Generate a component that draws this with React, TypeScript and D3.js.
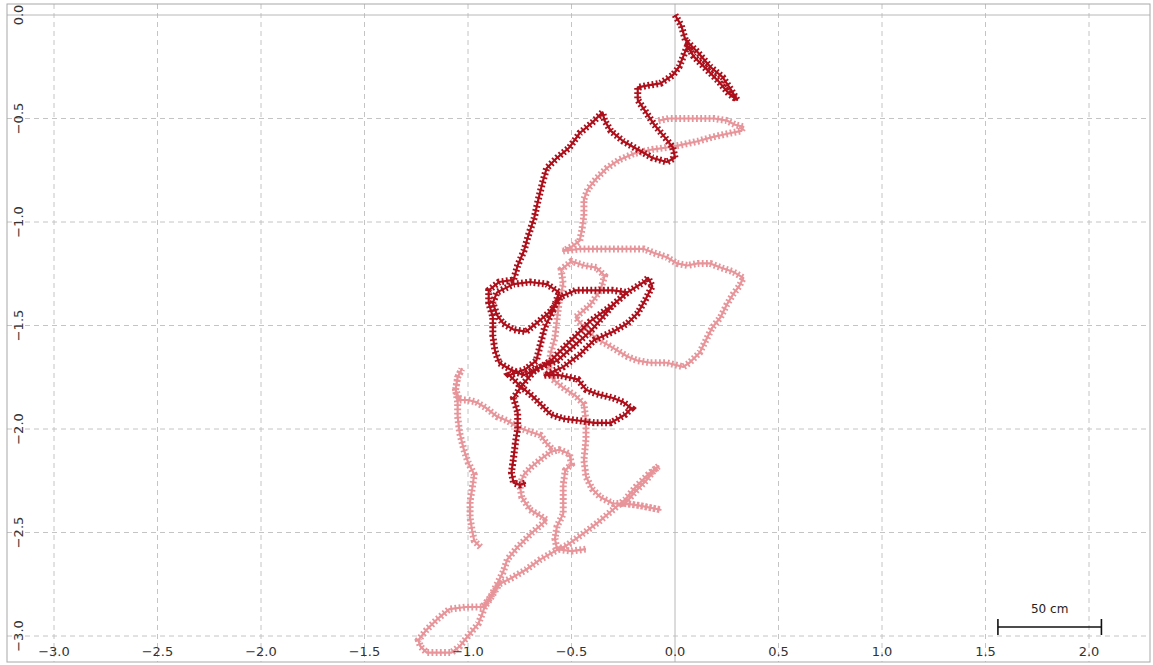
import React from 'react';
import * as d3 from 'd3';

const WIDTH = 1153;
const HEIGHT = 665;

// Axis tick values (metres)
const xTicks = [-3.0, -2.5, -2.0, -1.5, -1.0, -0.5, 0, 0.5, 1.0, 1.5, 2.0];
const yTicks = [0, -0.5, -1.0, -1.5, -2.0, -2.5, -3.0];

// Scale bar: 50 cm
const scaleBarFrom = 1.56;
const scaleBarTo = 2.06;
const scaleBarLabel = '50 cm';

// First part of the walk (dark red), [x, y] in metres
const trackEarly: [number, number][] = [
  [0.0, 0.0], [0.03, -0.05], [0.05, -0.12], [0.11, -0.18], [0.17, -0.25], [0.23, -0.3],
  [0.27, -0.36], [0.3, -0.41], [0.26, -0.38], [0.21, -0.32], [0.15, -0.26], [0.09, -0.2],
  [0.06, -0.15], [0.04, -0.2], [0.02, -0.25], [-0.01, -0.29], [-0.07, -0.33], [-0.13, -0.34],
  [-0.18, -0.35], [-0.18, -0.41], [-0.14, -0.47], [-0.1, -0.53], [-0.05, -0.59], [-0.01, -0.64],
  [0.0, -0.69], [-0.04, -0.71], [-0.11, -0.69], [-0.18, -0.65], [-0.25, -0.61], [-0.31, -0.56],
  [-0.34, -0.51], [-0.35, -0.47], [-0.4, -0.52], [-0.46, -0.57], [-0.51, -0.64], [-0.57, -0.69],
  [-0.62, -0.74], [-0.64, -0.81], [-0.66, -0.89], [-0.68, -0.98], [-0.71, -1.07], [-0.73, -1.14],
  [-0.76, -1.21], [-0.78, -1.28],
  [-0.85, -1.29], [-0.9, -1.33], [-0.9, -1.39], [-0.88, -1.46], [-0.88, -1.55], [-0.87, -1.62],
  [-0.85, -1.68], [-0.8, -1.71], [-0.73, -1.74], [-0.67, -1.71],
  [-0.57, -1.67], [-0.49, -1.6], [-0.41, -1.53], [-0.35, -1.46], [-0.3, -1.4], [-0.23, -1.34],
  [-0.15, -1.29], [-0.13, -1.27], [-0.11, -1.31], [-0.14, -1.37], [-0.18, -1.44], [-0.23, -1.49],
  [-0.3, -1.53], [-0.39, -1.57], [-0.46, -1.64], [-0.54, -1.7], [-0.63, -1.74],
  [-0.56, -1.74], [-0.47, -1.76], [-0.43, -1.81], [-0.38, -1.83], [-0.3, -1.85], [-0.25, -1.87],
  [-0.21, -1.9], [-0.24, -1.93], [-0.31, -1.97], [-0.39, -1.97], [-0.46, -1.96], [-0.54, -1.95],
  [-0.6, -1.93], [-0.64, -1.89], [-0.69, -1.84], [-0.75, -1.79], [-0.8, -1.74],
  [-0.72, -1.71], [-0.67, -1.67], [-0.65, -1.59], [-0.63, -1.51], [-0.59, -1.43], [-0.56, -1.34],
  [-0.62, -1.3], [-0.7, -1.29], [-0.78, -1.3], [-0.86, -1.34], [-0.88, -1.39], [-0.86, -1.45],
  [-0.83, -1.49], [-0.78, -1.52], [-0.72, -1.53], [-0.67, -1.49], [-0.6, -1.43], [-0.55, -1.36],
  [-0.48, -1.33], [-0.39, -1.33], [-0.3, -1.33], [-0.23, -1.34],
  [-0.3, -1.4], [-0.41, -1.48], [-0.52, -1.59], [-0.6, -1.67], [-0.68, -1.72],
  [-0.74, -1.79], [-0.78, -1.85], [-0.76, -1.92], [-0.76, -2.0], [-0.77, -2.06], [-0.78, -2.14],
  [-0.79, -2.21], [-0.78, -2.26], [-0.75, -2.27], [-0.72, -2.26],
];

// Later part of the walk (light red), main stretch
const trackLateMain: [number, number][] = [
  [-0.08, -0.51], [-0.03, -0.5], [0.05, -0.5], [0.12, -0.5], [0.19, -0.5], [0.25, -0.51],
  [0.29, -0.53], [0.33, -0.54], [0.32, -0.56], [0.27, -0.57], [0.18, -0.59], [0.11, -0.61],
  [0.02, -0.63], [-0.04, -0.64], [-0.11, -0.65], [-0.2, -0.67], [-0.27, -0.7], [-0.33, -0.74],
  [-0.38, -0.79], [-0.42, -0.84], [-0.44, -0.89], [-0.44, -0.97], [-0.45, -1.04], [-0.46, -1.09],
  [-0.5, -1.12], [-0.54, -1.14],
  [-0.46, -1.13], [-0.36, -1.13], [-0.27, -1.13], [-0.15, -1.13], [-0.1, -1.15], [-0.04, -1.17],
  [0.01, -1.2], [0.06, -1.21], [0.11, -1.2], [0.17, -1.2], [0.22, -1.22], [0.28, -1.24],
  [0.33, -1.27], [0.31, -1.31], [0.28, -1.35], [0.25, -1.4], [0.22, -1.46], [0.18, -1.51],
  [0.15, -1.57], [0.12, -1.63], [0.07, -1.68], [0.04, -1.7], [-0.04, -1.68], [-0.12, -1.68],
  [-0.18, -1.67], [-0.23, -1.65], [-0.28, -1.62], [-0.33, -1.59], [-0.37, -1.57],
  [-0.43, -1.52], [-0.48, -1.46], [-0.41, -1.4], [-0.36, -1.33], [-0.34, -1.26], [-0.38, -1.22],
  [-0.44, -1.21], [-0.5, -1.19], [-0.55, -1.23], [-0.54, -1.3], [-0.56, -1.39], [-0.57, -1.47],
  [-0.58, -1.56], [-0.6, -1.63], [-0.61, -1.7], [-0.59, -1.76], [-0.54, -1.8], [-0.48, -1.84],
  [-0.44, -1.88], [-0.43, -1.96], [-0.43, -2.05], [-0.44, -2.15], [-0.43, -2.23], [-0.4, -2.29],
  [-0.36, -2.33], [-0.3, -2.36], [-0.24, -2.36], [-0.17, -2.37], [-0.07, -2.39],
  [-0.17, -2.37], [-0.24, -2.36], [-0.19, -2.3], [-0.14, -2.25], [-0.11, -2.21], [-0.08, -2.18],
  [-0.13, -2.22], [-0.19, -2.28], [-0.24, -2.34], [-0.3, -2.39], [-0.37, -2.45], [-0.45, -2.51],
  [-0.52, -2.56], [-0.58, -2.59], [-0.65, -2.63], [-0.72, -2.68], [-0.79, -2.72], [-0.85, -2.75],
  [-0.88, -2.8], [-0.92, -2.86], [-0.93, -2.89], [-0.95, -2.94], [-1.0, -3.0], [-1.04, -3.05],
  [-1.08, -3.08], [-1.14, -3.08], [-1.2, -3.08], [-1.23, -3.05], [-1.24, -3.02], [-1.2, -2.97],
  [-1.15, -2.92], [-1.09, -2.87], [-1.01, -2.86], [-0.93, -2.86],
  [-0.89, -2.81], [-0.86, -2.75], [-0.83, -2.69], [-0.81, -2.63], [-0.76, -2.57], [-0.69, -2.5],
  [-0.62, -2.44], [-0.65, -2.42], [-0.7, -2.39], [-0.74, -2.33], [-0.75, -2.27], [-0.73, -2.22],
  [-0.69, -2.18], [-0.64, -2.14], [-0.6, -2.11], [-0.56, -2.1], [-0.51, -2.12], [-0.5, -2.17],
  [-0.53, -2.2], [-0.54, -2.27], [-0.54, -2.34], [-0.54, -2.41], [-0.57, -2.47], [-0.58, -2.53],
  [-0.57, -2.58], [-0.5, -2.59], [-0.43, -2.58],
];

// Later part of the walk (light red), western stretch
const trackLateWest: [number, number][] = [
  [-0.94, -2.57], [-0.97, -2.54], [-0.98, -2.49], [-0.99, -2.43], [-0.99, -2.35], [-0.98, -2.29],
  [-0.97, -2.22], [-1.0, -2.16], [-1.02, -2.1], [-1.04, -2.02], [-1.05, -1.94], [-1.05, -1.87],
  [-1.06, -1.81], [-1.05, -1.75], [-1.03, -1.71], [-1.05, -1.75], [-1.06, -1.81], [-1.04, -1.86],
  [-1.0, -1.86], [-0.96, -1.87], [-0.91, -1.9], [-0.86, -1.94], [-0.81, -1.96], [-0.76, -1.99],
  [-0.71, -2.01], [-0.65, -2.03], [-0.62, -2.07], [-0.59, -2.1],
];

const DARK = '#ad0f1b';
const LIGHT = '#e7959a';

export default function App() {
  const x = d3.scaleLinear().domain([-3, 2]).range([54, 1089]);
  const y = d3.scaleLinear().domain([0, -3]).range([15, 636]);
  const line = d3
    .line<[number, number]>()
    .x((d) => x(d[0]))
    .y((d) => y(d[1]));
  const fmt = d3.format('.1f');

  const frame = { left: 7, top: 4, right: 1150, bottom: 662 };

  // Each track is a chain of "+" markers: a centre line plus short cross bars.
  const Track = ({ pts, color }: { pts: [number, number][]; color: string }) => {
    const d = line(pts) || '';
    return (
      <g>
        <path d={d} fill="none" stroke={color} strokeWidth={2.2} strokeLinejoin="round" />
        <path d={d} fill="none" stroke={color} strokeWidth={7} strokeDasharray="1.8 2.4" />
      </g>
    );
  };

  const barY = 627;

  return (
    <svg
      width={WIDTH}
      height={HEIGHT}
      style={{ position: 'absolute', left: 0, top: 0, background: '#fff' }}
      fontFamily="DejaVu Sans, Verdana, sans-serif"
    >
      <defs>
        <clipPath id="plotClip">
          <rect
            x={frame.left}
            y={frame.top}
            width={frame.right - frame.left}
            height={frame.bottom - frame.top}
          />
        </clipPath>
      </defs>
      <rect x={0} y={0} width={WIDTH} height={HEIGHT} fill="#fff" />
      <g clipPath="url(#plotClip)">
        {xTicks.map((v) =>
          v === 0 ? null : (
            <line
              key={'gx' + v}
              x1={x(v)}
              x2={x(v)}
              y1={frame.top}
              y2={frame.bottom}
              stroke="#c4c4c4"
              strokeDasharray="5 4"
            />
          )
        )}
        {yTicks.map((v) =>
          v === 0 ? null : (
            <line
              key={'gy' + v}
              x1={frame.left}
              x2={frame.right}
              y1={y(v)}
              y2={y(v)}
              stroke="#c4c4c4"
              strokeDasharray="5 4"
            />
          )
        )}
        <line x1={x(0)} x2={x(0)} y1={frame.top} y2={frame.bottom} stroke="#b8b8b8" />
        <line x1={frame.left} x2={frame.right} y1={y(0)} y2={y(0)} stroke="#b8b8b8" />

        <Track pts={trackLateWest} color={LIGHT} />
        <Track pts={trackLateMain} color={LIGHT} />
        <Track pts={trackEarly} color={DARK} />

        {xTicks.map((v) => (
          <text
            key={'tx' + v}
            x={x(v)}
            y={651}
            textAnchor="middle"
            dominantBaseline="central"
            fontSize={13}
            fill="#333"
          >
            {fmt(v)}
          </text>
        ))}
        {yTicks.map((v) => (
          <text
            key={'ty' + v}
            transform={`translate(18, ${y(v)}) rotate(-90)`}
            textAnchor="middle"
            dominantBaseline="central"
            fontSize={13}
            fill="#333"
          >
            {fmt(v)}
          </text>
        ))}

        <g stroke="#111" strokeWidth={1.6}>
          <line x1={x(scaleBarFrom)} x2={x(scaleBarTo)} y1={barY} y2={barY} />
          <line x1={x(scaleBarFrom)} x2={x(scaleBarFrom)} y1={barY - 8} y2={barY + 8} />
          <line x1={x(scaleBarTo)} x2={x(scaleBarTo)} y1={barY - 8} y2={barY + 8} />
        </g>
        <text
          x={(x(scaleBarFrom) + x(scaleBarTo)) / 2}
          y={609}
          textAnchor="middle"
          dominantBaseline="central"
          fontSize={12}
          fill="#222"
        >
          {scaleBarLabel}
        </text>
      </g>
      <rect
        x={frame.left}
        y={frame.top}
        width={frame.right - frame.left}
        height={frame.bottom - frame.top}
        fill="none"
        stroke="#a8a8a8"
      />
    </svg>
  );
}
